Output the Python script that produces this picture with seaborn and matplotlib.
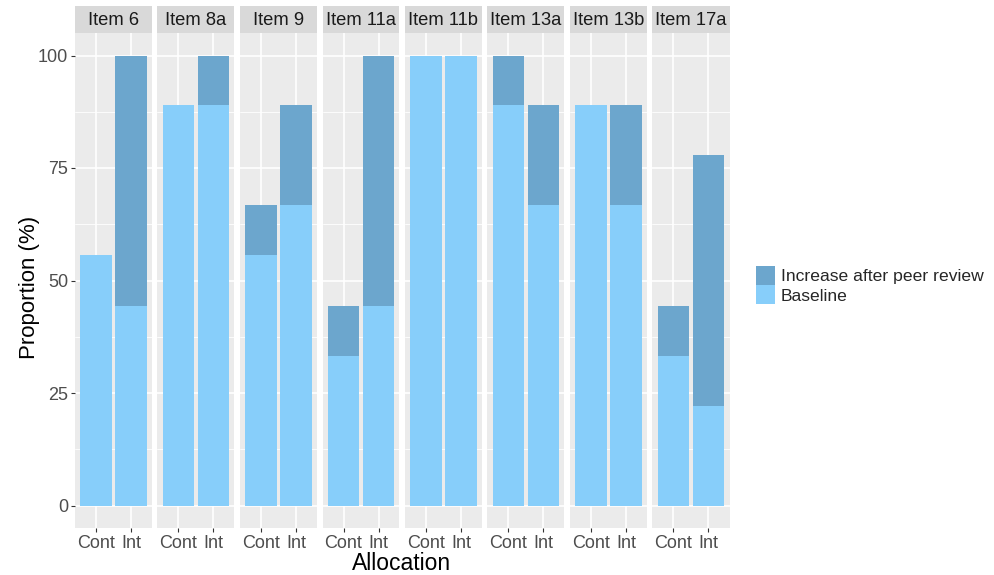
import pandas as pd
import numpy as np
import matplotlib
matplotlib.use("Agg")
import matplotlib.pyplot as plt
import matplotlib.patches as mpatches
import seaborn as sns

# Data (percent of trials)
items = ["Item 6", "Item 8a", "Item 9", "Item 11a", "Item 11b", "Item 13a", "Item 13b", "Item 17a"]
groups = ["Cont", "Int"]
cont_baseline = [55.6, 88.9, 55.6, 33.3, 100.0, 88.9, 88.9, 33.3]
cont_increase = [0.0, 0.0, 11.1, 11.1, 0.0, 11.1, 0.0, 11.1]
int_baseline = [44.4, 88.9, 66.7, 44.4, 100.0, 66.7, 66.7, 22.2]
int_increase = [55.6, 11.1, 22.2, 55.6, 0.0, 22.2, 22.2, 55.6]
y_ticks = [0, 25, 50, 75, 100]

rows = []
for i, item in enumerate(items):
    rows.append({"Item": item, "Allocation": "Cont", "Baseline": cont_baseline[i],
                 "Total": cont_baseline[i] + cont_increase[i]})
    rows.append({"Item": item, "Allocation": "Int", "Baseline": int_baseline[i],
                 "Total": int_baseline[i] + int_increase[i]})
df = pd.DataFrame(rows)

sns.set_theme(style="white")
plt.rcParams['font.family'] = ['Liberation Sans', 'DejaVu Sans']

col_base = "#87CEFA"
col_inc = "#6CA6CD"
W, H = 995, 575
fig = plt.figure(figsize=(W / 100, H / 100), dpi=100)

left0, pw, step = 75, 77, 82.5
top, bottom, strip_top = 33, 528, 6

for i, item in enumerate(items):
    x0 = left0 + i * step
    ax = fig.add_axes([x0 / W, 1 - bottom / H, pw / W, (bottom - top) / H])
    sub = df[df["Item"] == item]
    ax.set_facecolor("#EBEBEB")
    for v in [12.5, 37.5, 62.5, 87.5]:
        ax.axhline(v, color="white", lw=0.6, zorder=0)
    for v in y_ticks:
        ax.axhline(v, color="white", lw=1.2, zorder=0)
    for v in [0, 1]:
        ax.axvline(v, color="white", lw=1.2, zorder=0)
    sns.barplot(data=sub, x="Allocation", y="Total", order=groups, color=col_inc,
                width=0.9, saturation=1, errorbar=None, ax=ax, zorder=2, linewidth=0)
    sns.barplot(data=sub, x="Allocation", y="Baseline", order=groups, color=col_base,
                width=0.9, saturation=1, errorbar=None, ax=ax, zorder=3, linewidth=0)
    ax.set_xlim(-0.6, 1.6)
    ax.set_ylim(-5, 105)
    ax.set_xlabel("")
    ax.set_ylabel("")
    for s in ax.spines.values():
        s.set_visible(False)
    ax.tick_params(axis="x", length=3, width=0.8, color="#333333", colors="#4D4D4D",
                   labelsize=13, pad=2, bottom=True)
    ax.set_xticks([0, 1])
    ax.set_xticklabels(groups)
    ax.set_yticks(y_ticks)
    if i == 0:
        ax.set_yticklabels([str(t) for t in y_ticks])
        ax.tick_params(axis="y", length=3, width=0.8, color="#333333", colors="#4D4D4D",
                       labelsize=13, pad=2, left=True)
    else:
        ax.tick_params(axis="y", left=False, labelleft=False)
    # facet strip
    sax = fig.add_axes([x0 / W, 1 - top / H, pw / W, (top - strip_top) / H])
    sax.set_facecolor("#D9D9D9")
    sax.set_xticks([])
    sax.set_yticks([])
    for s in sax.spines.values():
        s.set_visible(False)
    sax.text(0.5, 0.45, item, ha="center", va="center", fontsize=13.2, color="#1A1A1A",
             transform=sax.transAxes)

fig.text(30 / W, 1 - 287 / H, "Proportion (%)", rotation=90, ha="center", va="center",
         fontsize=16, color="black")
fig.text(402 / W, 1 - 563 / H, "Allocation", ha="center", va="center",
         fontsize=16.5, color="black")

handles = [mpatches.Patch(facecolor=col_inc, edgecolor="none", label="Increase after peer review"),
           mpatches.Patch(facecolor=col_base, edgecolor="none", label="Baseline")]
fig.legend(handles=handles, loc="center left", bbox_to_anchor=(747 / W, 1 - 285 / H),
           frameon=False, fontsize=12.6, handlelength=1.1, handleheight=1.25,
           labelspacing=0.05, handletextpad=0.35, borderpad=0)

fig.savefig("out.png", dpi=100)
